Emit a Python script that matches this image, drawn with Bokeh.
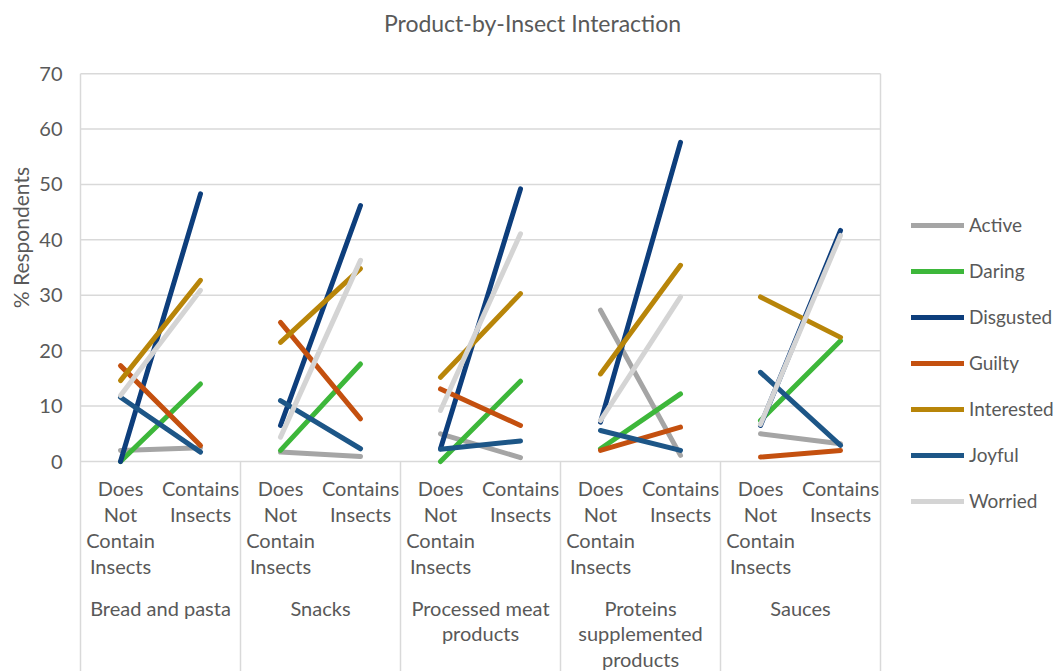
from math import pi

from bokeh.core.properties import value
from bokeh.embed import file_html
from bokeh.models import ColumnDataSource, Legend, LegendItem, Range1d
from bokeh.plotting import figure
from bokeh.resources import INLINE

# ---- data -------------------------------------------------------------
groups = ["Bread and pasta", "Snacks", "Processed meat products",
          "Proteins supplemented products", "Sauces"]
group_labels = ["Bread and pasta", "Snacks", "Processed meat\nproducts",
                "Proteins\nsupplemented\nproducts", "Sauces"]
conditions = ["Does Not Contain Insects", "Contains Insects"]
condition_labels = ["Does\nNot\nContain\nInsects", "Contains\nInsects"]

emotions = ["Active", "Daring", "Disgusted", "Guilty", "Interested", "Joyful", "Worried"]

# % respondents, pairs per product group: (does not contain, contains)
active = [2.0, 2.5, 1.7, 0.9, 5.0, 0.7, 27.3, 1.1, 5.0, 3.2]
daring = [0.0, 14.0, 2.0, 17.6, 0.0, 14.5, 2.3, 12.2, 7.4, 21.8]
disgusted = [0.0, 48.3, 6.5, 46.2, 2.3, 49.2, 7.1, 57.6, 6.5, 41.7]
guilty = [17.3, 2.9, 25.1, 7.7, 13.1, 6.5, 2.0, 6.2, 0.8, 2.0]
interested = [14.6, 32.7, 21.5, 34.8, 15.2, 30.3, 15.8, 35.4, 29.7, 22.4]
joyful = [11.6, 1.7, 11.0, 2.3, 2.2, 3.7, 5.6, 2.0, 16.1, 2.9]
worried = [11.9, 30.9, 4.4, 36.3, 9.2, 41.1, 7.4, 29.7, 6.7, 40.8]

series = [active, daring, disgusted, guilty, interested, joyful, worried]
colors = ["#a5a5a5", "#3db73a", "#0d3e7c", "#c4500f", "#b88509", "#1d5687", "#d4d4d4"]

y_ticks = [0, 10, 20, 30, 40, 50, 60, 70]

# ---- styling ----------------------------------------------------------
FONT = "Lato"
TXT = "#595959"
GRID = "#d9d9d9"
Y_BOTTOM, Y_TOP = -37.9, 83.2
Y_MAX = 70

# category slots along x: one unit per (group, condition) pair
factors = [(g, c) for g in groups for c in conditions]
slot = {f: i + 0.5 for i, f in enumerate(factors)}
n = len(factors)
group_center = {g: (slot[(g, conditions[0])] + slot[(g, conditions[1])]) / 2 for g in groups}

p = figure(width=1064, height=671, output_backend="svg", toolbar_location=None,
           x_range=Range1d(-1, 12.3), y_range=Range1d(Y_BOTTOM, Y_TOP),
           x_axis_location=None, y_axis_location=None,
           min_border=0, title=None)
p.outline_line_color = None
p.background_fill_color = "white"
p.border_fill_color = "white"
p.grid.visible = False

# horizontal gridlines across the plot area
p.segment(x0=[0] * len(y_ticks), y0=y_ticks, x1=[n] * len(y_ticks), y1=y_ticks,
          line_color=GRID, line_width=1.5)
# plot-area sides and product-group separators in the label band
p.segment(x0=[0, n], y0=[Y_BOTTOM, Y_BOTTOM], x1=[0, n], y1=[Y_MAX, Y_MAX],
          line_color=GRID, line_width=1.5)
seps = [2 * i for i in range(1, len(groups))]
p.segment(x0=seps, y0=[Y_BOTTOM] * len(seps), x1=seps, y1=[0] * len(seps),
          line_color=GRID, line_width=1.5)

text_style = dict(text_font=value(FONT), text_font_size="20px", text_color=TXT)

# value-axis tick labels
p.text(x=[-0.225] * len(y_ticks), y=y_ticks, text=[str(t) for t in y_ticks],
       text_align="right", text_baseline="middle", **text_style)

# category labels
cat_src = ColumnDataSource(dict(
    x=[slot[f] for f in factors],
    text=[condition_labels[conditions.index(f[1])] for f in factors],
    y=[-2.7] * n,
))
p.text(x="x", y="y", text="text", source=cat_src, text_align="center",
       text_baseline="top", text_line_height=1.08, **text_style)

grp_src = ColumnDataSource(dict(x=[group_center[g] for g in groups],
                                text=group_labels, y=[-24.2] * len(groups)))
p.text(x="x", y="y", text="text", source=grp_src, text_align="center",
       text_baseline="top", text_line_height=1.08, **text_style)

# interaction lines, one segment per product group
items = []
for name, vals, col in zip(emotions, series, colors):
    rs = []
    for gi, g in enumerate(groups):
        r = p.line(x=[slot[(g, conditions[0])], slot[(g, conditions[1])]],
                   y=[vals[2 * gi], vals[2 * gi + 1]],
                   line_color=col, line_width=5, line_cap="round")
        rs.append(r)
    items.append(LegendItem(label=name, renderers=rs))

legend = Legend(items=items, location=(911, 159), border_line_color=None,
                background_fill_alpha=0, label_text_font=FONT,
                label_text_font_size="19px", label_text_color=TXT,
                glyph_width=53, glyph_height=20, label_height=20,
                spacing=23, padding=10, margin=0, label_standoff=5)
p.add_layout(legend, "center")

# chart title and value-axis title
p.text(x=[5.65], y=[79.2], text=["Product-by-Insect Interaction"],
       text_align="center", text_baseline="middle",
       text_font=value(FONT), text_font_size="23px", text_color=TXT)
p.text(x=[-0.75], y=[40.4], text=["% Respondents"], angle=pi / 2,
       text_align="center", text_baseline="middle",
       text_font=value(FONT), text_font_size="21px", text_color=TXT)

open("out.html", "w").write(file_html(p, INLINE))
